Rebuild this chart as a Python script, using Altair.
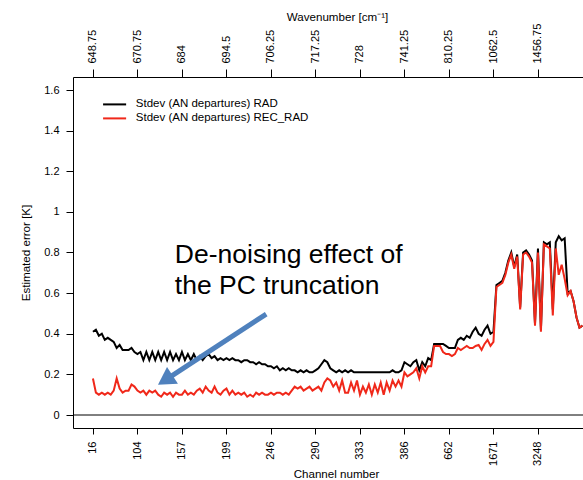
import altair as alt
import pandas as pd

# ---- data ----
rad = [0.41, 0.42, 0.39, 0.40, 0.37, 0.38, 0.37, 0.36, 0.33, 0.345,
       0.32, 0.32, 0.32, 0.33, 0.31, 0.30, 0.31, 0.27, 0.31, 0.27,
       0.31, 0.27, 0.31, 0.27, 0.31, 0.27, 0.31, 0.27, 0.30, 0.27,
       0.31, 0.27, 0.30, 0.27, 0.30, 0.27, 0.29, 0.27, 0.29, 0.30,
       0.28, 0.29, 0.27, 0.28, 0.27, 0.28, 0.27, 0.28, 0.27, 0.27,
       0.26, 0.27, 0.27, 0.26, 0.26, 0.25, 0.26, 0.25, 0.25, 0.24,
       0.24, 0.23, 0.24, 0.22, 0.23, 0.22, 0.23, 0.22, 0.22, 0.21,
       0.22, 0.21, 0.22, 0.21, 0.21, 0.22, 0.23, 0.25, 0.27, 0.26,
       0.23, 0.22, 0.21, 0.22, 0.21, 0.22, 0.21, 0.22, 0.21, 0.21,
       0.21, 0.21, 0.21, 0.21, 0.21, 0.21, 0.21, 0.21, 0.21, 0.21,
       0.21, 0.22, 0.21, 0.21, 0.22, 0.26, 0.25, 0.24, 0.26, 0.27,
       0.22, 0.26, 0.24, 0.28, 0.27, 0.35, 0.35, 0.35, 0.35, 0.34,
       0.33, 0.33, 0.33, 0.37, 0.38, 0.37, 0.39, 0.38, 0.41, 0.43,
       0.40, 0.39, 0.42, 0.44, 0.40, 0.41,
       0.64, 0.65, 0.66, 0.70, 0.76, 0.80, 0.73, 0.79, 0.53, 0.80,
       0.81, 0.79, 0.76, 0.45, 0.82, 0.42, 0.85, 0.84, 0.85, 0.52,
       0.85, 0.88, 0.86, 0.87, 0.60, 0.61, 0.56, 0.48, 0.43, 0.44]

rec_rad = [0.18, 0.11, 0.10, 0.11, 0.10, 0.11, 0.10, 0.12, 0.18, 0.13,
           0.11, 0.12, 0.12, 0.15, 0.14, 0.12, 0.11, 0.12, 0.10, 0.12,
           0.11, 0.12, 0.10, 0.09, 0.11, 0.10, 0.11, 0.09, 0.11, 0.10,
           0.10, 0.12, 0.10, 0.11, 0.10, 0.12, 0.13, 0.11, 0.14, 0.12,
           0.11, 0.14, 0.11, 0.10, 0.12, 0.13, 0.10, 0.12, 0.10, 0.11,
           0.10, 0.11, 0.09, 0.10, 0.09, 0.11, 0.10, 0.11, 0.10, 0.10,
           0.11, 0.10, 0.11, 0.11, 0.10, 0.11, 0.10, 0.12, 0.14, 0.13,
           0.14, 0.12, 0.13, 0.14, 0.12, 0.13, 0.14, 0.12, 0.16, 0.18,
           0.17, 0.14, 0.16, 0.12, 0.17, 0.11, 0.11, 0.16, 0.12, 0.17,
           0.10, 0.14, 0.11, 0.15, 0.10, 0.15, 0.11, 0.16, 0.10, 0.16,
           0.12, 0.17, 0.14, 0.17, 0.14, 0.21, 0.19, 0.20, 0.21, 0.23,
           0.18, 0.24, 0.21, 0.24, 0.24, 0.34, 0.34, 0.34, 0.31, 0.30,
           0.30, 0.29, 0.30, 0.33, 0.32, 0.33, 0.34, 0.33, 0.33, 0.34,
           0.345, 0.32, 0.35, 0.37, 0.34, 0.36,
           0.63, 0.64, 0.65, 0.69, 0.75, 0.79, 0.72, 0.78, 0.52, 0.79,
           0.80, 0.78, 0.75, 0.44, 0.80, 0.41, 0.84, 0.83, 0.82, 0.49,
           0.82, 0.69, 0.74, 0.67, 0.59, 0.61, 0.56, 0.48, 0.43, 0.44]

channel_labels = ["16", "104", "157", "199", "246", "290", "333", "386",
                  "662", "1671", "3248"]
wavenumber_labels = ["648.75", "670.75", "684", "694.5", "706.25", "717.25",
                     "728", "741.25", "810.25", "1062.5", "1456.75"]
label_step = 15
y_ticks = [0, 0.2, 0.4, 0.6, 0.8, 1.0, 1.2, 1.4, 1.6]

series_names = ["Stdev (AN departures) RAD", "Stdev (AN departures) REC_RAD"]
series_colors = ["#000000", "#F0281A"]

annot_lines = ["De-noising effect of", "the PC truncation"]
annot_x = [27.6, 27.6]
annot_y = [0.748, 0.596]
arrow_tail = (58.4, 0.497)
arrow_head = (24.37, 0.172)
arrow_color = "#4F81BD"

FONT = "Liberation Sans"

# ---- tables ----
idx = list(range(len(rad)))
df_rad = pd.DataFrame({"ch": idx, "v": rad, "s": series_names[0]})
df_rec = pd.DataFrame({"ch": idx[:len(rec_rad)], "v": rec_rad, "s": series_names[1]})
df_arrow = pd.DataFrame({"x": [arrow_tail[0]], "y": [arrow_tail[1]],
                         "x2": [arrow_head[0]], "y2": [arrow_head[1]]})
df_head = pd.DataFrame({"x": [arrow_head[0]], "y": [arrow_head[1]]})
df_text = pd.DataFrame({"x": annot_x, "y": annot_y, "t": annot_lines})

tick_vals = [i * label_step for i in range(len(channel_labels))]


def label_expr(labels):
    arr = "[" + ",".join("'" + s + "'" for s in labels) + "]"
    return f"{arr}[round(datum.value / {label_step})]"


xscale = alt.Scale(domain=[-6.72, 165.18], nice=False, zero=False)
yscale = alt.Scale(domain=[-0.064, 1.664], nice=False, zero=False)

axis_common = dict(domainColor="black", tickColor="black", labelColor="black",
                   titleColor="black", labelFont=FONT, titleFont=FONT,
                   labelFontSize=11, titleFontSize=11.6, titleFontWeight="normal",
                   grid=False, labelFlush=False, labelOverlap=False,
                   domainWidth=1, tickWidth=1)

bottom_axis = alt.Axis(orient="bottom", values=tick_vals,
                       labelExpr=label_expr(channel_labels),
                       labelAngle=270, labelAlign="right", labelBaseline="middle",
                       tickSize=6, labelPadding=7,
                       title="Channel number", titleX=263, titleY=49,
                       titleAlign="center", titleBaseline="alphabetic",
                       **axis_common)
top_axis = alt.Axis(orient="top", values=tick_vals,
                    labelExpr=label_expr(wavenumber_labels),
                    labelAngle=270, labelAlign="left", labelBaseline="middle",
                    tickSize=8, labelPadding=6,
                    title="Wavenumber [cm⁻¹]", titleX=264, titleY=-57,
                    titleAlign="center", titleBaseline="alphabetic",
                    **axis_common)
y_axis = alt.Axis(orient="left", values=y_ticks, format="~g",
                  tickSize=7, labelPadding=7,
                  title="Estimated error [K]", titleAngle=270,
                  titleX=-43.5, titleY=175.5, titleAlign="center",
                  titleBaseline="alphabetic", **axis_common)

color_scale = alt.Scale(domain=series_names, range=series_colors)
legend = alt.Legend(orient="none", legendX=35.6, legendY=21.4, title=None,
                    symbolType="M-2.5,0L2.5,0", symbolSize=85, symbolStrokeWidth=2,
                    labelFont=FONT, labelFontSize=11.5, labelColor="black",
                    labelOffset=15.2, padding=0, rowPadding=2, labelLimit=0)

black = alt.Chart(df_rad).mark_line(strokeWidth=2, clip=True).encode(
    x=alt.X("ch:Q", scale=xscale, axis=bottom_axis),
    y=alt.Y("v:Q", scale=yscale, axis=y_axis),
    color=alt.Color("s:N", scale=color_scale, legend=legend),
)
red = alt.Chart(df_rec).mark_line(strokeWidth=2, clip=True).encode(
    x=alt.X("ch:Q", scale=xscale, axis=top_axis),
    y=alt.Y("v:Q", scale=yscale, axis=None),
    color=alt.Color("s:N", scale=color_scale, legend=legend),
)
zero = alt.Chart(pd.DataFrame({"z": [0]})).mark_rule(color="black", strokeWidth=1).encode(
    y=alt.Y("z:Q", scale=yscale, axis=None),
)
shaft = alt.Chart(df_arrow).mark_rule(strokeWidth=5, color=arrow_color, strokeCap="butt").encode(
    x=alt.X("x:Q", scale=xscale, axis=None), x2="x2:Q",
    y=alt.Y("y:Q", scale=yscale, axis=None), y2="y2:Q",
)
head = alt.Chart(df_head).mark_point(shape="triangle-up", filled=True, size=400,
                                     angle=236.9, color=arrow_color, opacity=1).encode(
    x=alt.X("x:Q", scale=xscale, axis=None),
    y=alt.Y("y:Q", scale=yscale, axis=None),
)
text = alt.Chart(df_text).mark_text(align="left", baseline="alphabetic", fontSize=26.5,
                                    font=FONT, color="black").encode(
    x=alt.X("x:Q", scale=xscale, axis=None),
    y=alt.Y("y:Q", scale=yscale, axis=None),
    text="t:N",
)

chart = alt.layer(black, red, zero, shaft, head, text).resolve_axis(
    x="independent", y="independent"
).properties(
    width=510, height=351,
    padding={"left": 73, "top": 77, "right": 0, "bottom": 52},
    autosize=alt.AutoSizeParams(type="none"),
    background="white",
).configure_view(stroke=None)

chart.save("out.html", embed_options={"renderer": "svg", "actions": False})
